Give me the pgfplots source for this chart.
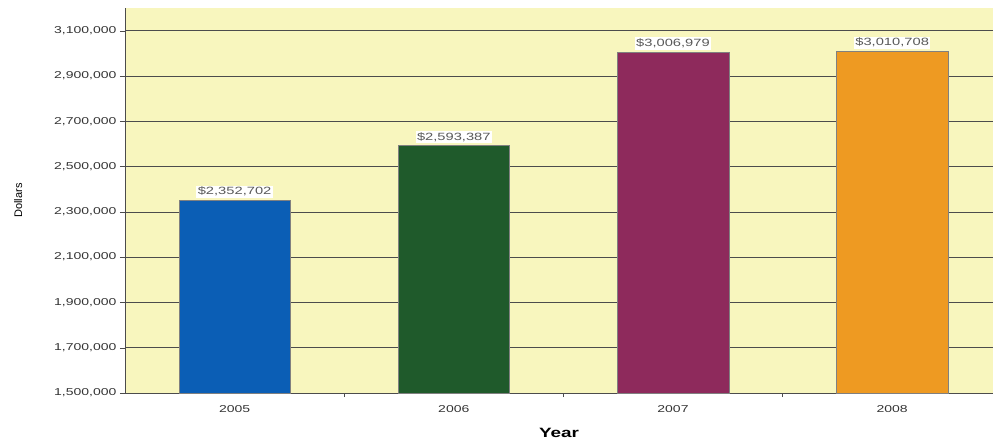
\documentclass[border=0pt]{standalone}
\usepackage{pgfplots}
\pgfplotsset{compat=1.18}
\usepackage{fontspec}
\setmainfont{Liberation Sans}[FakeStretch=1.4]
\newfontfamily\plainfont{Liberation Sans}
\definecolor{bg}{HTML}{F8F6BE}
\definecolor{cblue}{HTML}{0B5EB5}
\definecolor{cgreen}{HTML}{1F5A2B}
\definecolor{cpurple}{HTML}{8E2A5C}
\definecolor{corange}{HTML}{EE9A22}
\begin{document}
\begin{tikzpicture}
\useasboundingbox (-125pt,-52pt) rectangle (868pt,393pt);
\begin{axis}[
  at={(0,0)}, anchor=south west, scale only axis,
  width=868pt, height=385pt,
  xmin=-0.5, xmax=3.46, ymin=1500000, ymax=3200000,
  ytick={1500000,1700000,...,3100000},
  xtick={0,1,2,3}, xticklabels={2005,2006,2007,2008},
  minor xtick={0.5,1.5,2.5},
  axis x line*=bottom, axis y line*=left,
  axis line style={-, black!70},
  ymajorgrids, grid style={black!70, line width=0.6pt},
  major x tick style={draw=none},
  minor x tick style={black!70},
  y tick style={black!70},
  tick align=outside, major tick length=5pt, minor tick length=4pt,
  axis background/.style={fill=bg},
  scaled y ticks=false,
  yticklabel style={/pgf/number format/.cd, fixed, 1000 sep={,}, assume math mode=true},
  ticklabel style={font=\fontsize{10}{12}\selectfont, text=black!80},
  xticklabel style={yshift=-4pt},
  ybar, bar width=0.51, bar shift=0pt,
  nodes near coords, point meta=explicit symbolic,
  every node near coord/.append style={fill=white, text=black!65, font=\fontsize{10.5}{12}\selectfont, inner sep=1.5pt, yshift=2pt},
  xlabel={\textbf{Year}}, ylabel={Dollars},
  every axis x label/.style={at={(axis description cs:0.5,0)}, anchor=center, yshift=-40pt, font=\fontsize{13.5}{15}\selectfont},
  every axis y label/.style={at={(axis description cs:-0.123,0.5)}, anchor=center, rotate=90, font=\plainfont\fontsize{11}{13}\selectfont},
]
\addplot[fill=cblue, draw=black!50] coordinates {(0,2352702) [\$2,352,702]};
\addplot[fill=cgreen, draw=black!50] coordinates {(1,2593387) [\$2,593,387]};
\addplot[fill=cpurple, draw=black!50] coordinates {(2,3006979) [\$3,006,979]};
\addplot[fill=corange, draw=black!50] coordinates {(3,3010708) [\$3,010,708]};
\end{axis}
\end{tikzpicture}
\end{document}
